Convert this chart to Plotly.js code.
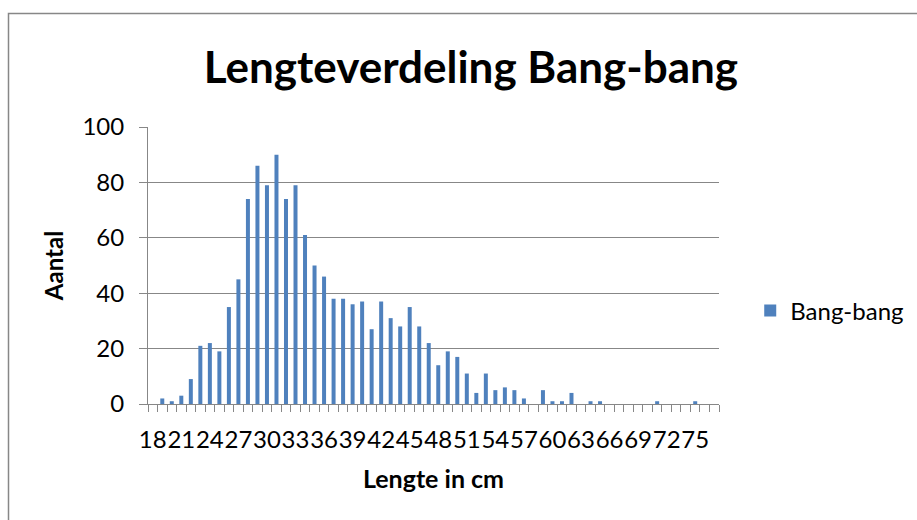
<!DOCTYPE html>
<html>
<head>
<meta charset="utf-8">
<script src="https://cdn.plot.ly/plotly-3.0.1.min.js"></script>
<style>
html,body{margin:0;padding:0;background:#fff;}
#chart{width:917px;height:520px;}
</style>
</head>
<body>
<div id="chart"></div>
<script>
const lengths = [18,19,20,21,22,23,24,25,26,27,28,29,30,31,32,33,34,35,36,37,38,39,40,41,42,43,44,45,46,47,48,49,50,51,52,53,54,55,56,57,58,59,60,61,62,63,64,65,66,67,68,69,70,71,72,73,74,75,76,77];
const counts  = [0,2,1,3,9,21,22,19,35,45,74,86,79,90,74,79,61,50,46,38,38,36,37,27,37,31,28,35,28,22,14,19,17,11,4,11,5,6,5,2,0,5,1,1,4,0,1,1,0,0,0,0,0,1,0,0,0,1,0,0];
const tickLengths = [18,21,24,27,30,33,36,39,42,45,48,51,54,57,60,63,66,69,72,75];
const tickLabels = ['18','21','24','27','30','33','36','39','42','45','48','51','54','57','60','63','66','69','72','75'];
const seriesName = 'Bang-bang';
const chartTitle = 'Lengteverdeling Bang-bang';
const xTitle = 'Lengte in cm';
const yTitle = 'Aantal';

const boundaries = lengths.map(v => v - 0.5).concat([lengths[lengths.length-1] + 0.5]);
const FONT = 'Lato, "Open Sans", sans-serif';
const GRID = '#878787';

const trace = {
  type: 'bar',
  x: lengths,
  y: counts,
  name: seriesName,
  marker: {color: '#4F81BD', line: {width: 0}},
  showlegend: true
};

const layout = {
  width: 917, height: 520,
  margin: {l: 148, r: 198, t: 127, b: 116, autoexpand: false},
  paper_bgcolor: '#fff', plot_bgcolor: '#fff',
  font: {family: FONT, color: '#000'},
  bargap: 0.58,
  showlegend: true,
  title: {
    text: '<b>' + chartTitle + '</b>',
    font: {family: FONT, size: 44, color: '#000'},
    xref: 'container', yref: 'container',
    x: 0.5136, xanchor: 'center',
    y: 1 - 68/520, yanchor: 'middle'
  },
  xaxis: {
    range: [lengths[0] - 0.5, lengths[lengths.length-1] + 0.5],
    tickmode: 'array', tickvals: tickLengths, ticktext: tickLabels,
    tickangle: 0,
    ticks: '', ticklabelstandoff: 14,
    tickfont: {family: FONT, size: 24, color: '#000'},
    showline: true, linecolor: GRID, linewidth: 1,
    showgrid: false, zeroline: false, automargin: false,
    minor: {tickmode: 'array', tickvals: boundaries, ticks: 'outside', ticklen: 7, tickcolor: GRID, tickwidth: 1, showgrid: false},
    title: {text: '<b>' + xTitle + '</b>', font: {family: FONT, size: 25, color: '#000'}, standoff: 18},
    fixedrange: true
  },
  yaxis: {
    range: [0, 100], dtick: 20, tick0: 0,
    ticks: 'outside', ticklen: 8, tickcolor: GRID, tickwidth: 1,
    ticklabelstandoff: 10,
    tickfont: {family: FONT, size: 24, color: '#000'},
    showline: true, linecolor: GRID, linewidth: 1,
    showgrid: true, gridcolor: GRID, gridwidth: 1,
    zeroline: false, automargin: false,
    title: {text: '<b>' + yTitle + '</b>', font: {family: FONT, size: 24, color: '#000'}, standoff: 12},
    fixedrange: true
  },
  legend: {
    x: 1.0547, xanchor: 'left', y: 0.336, yanchor: 'middle',
    font: {family: FONT, size: 24, color: '#000'},
    bgcolor: 'rgba(0,0,0,0)', borderwidth: 0
  },
  shapes: [{
    type: 'rect', xref: 'paper', yref: 'paper',
    x0: (8.5 - 148) / 571, x1: (940 - 148) / 571,
    y0: (404 - 530) / 277, y1: (404 - 13.5) / 277,
    line: {color: GRID, width: 1.5}, fillcolor: 'rgba(0,0,0,0)', layer: 'below'
  }]
};

Plotly.newPlot('chart', [trace], layout, {displayModeBar: false, staticPlot: true});
</script>
</body>
</html>
